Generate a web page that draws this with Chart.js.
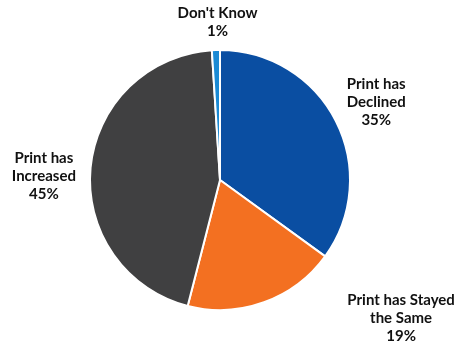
<!DOCTYPE html>
<html>
<head>
<meta charset="utf-8">
<script src="https://cdn.jsdelivr.net/npm/chart.js@4"></script>
<style>
  html, body { margin: 0; padding: 0; background: #fff; }
  #wrap { width: 466px; height: 347px; }
</style>
</head>
<body>
<div id="wrap"><canvas id="pie"></canvas></div>
<script>
// Survey answers, clockwise from 12 o'clock
const categories = ["Print has Declined", "Print has Stayed the Same", "Print has Increased", "Don't Know"];
const labelLines = [["Print has", "Declined"], ["Print has Stayed", "the Same"], ["Print has", "Increased"], ["Don't Know"]];
const shares = [35, 19, 45, 1];
const sliceColors = ["#0a4ea2", "#f37021", "#404041", "#1a8ad4"];

// where each label sits: angle (deg clockwise from top) and distance in radii
const labelAngle = [63.6, 127.3, 271.3, 359.1];
const labelDist = [1.342, 1.751, 1.355, 1.214];

const outsideLabels = {
  id: "outsideLabels",
  afterDraw(chart) {
    const ctx = chart.ctx;
    const arcs = chart.getDatasetMeta(0).data;
    if (!arcs.length) return;
    const cx = arcs[0].x, cy = arcs[0].y, r = arcs[0].outerRadius;
    ctx.save();
    ctx.fillStyle = "#111";
    ctx.font = "bold 15px Lato, 'DejaVu Sans', sans-serif";
    ctx.textAlign = "center";
    ctx.textBaseline = "middle";
    const lh = 18;
    shares.forEach((v, i) => {
      const a = labelAngle[i] * Math.PI / 180;
      const x = cx + Math.sin(a) * r * labelDist[i];
      const y = cy - Math.cos(a) * r * labelDist[i];
      const lines = labelLines[i].concat([v + "%"]);
      const top = y - (lines.length - 1) * lh / 2;
      lines.forEach((t, j) => ctx.fillText(t, x, top + j * lh));
    });
    ctx.restore();
  }
};

new Chart(document.getElementById("pie"), {
  type: "pie",
  data: {
    labels: categories,
    datasets: [{
      data: shares,
      backgroundColor: sliceColors,
      borderColor: "#fff",
      borderWidth: 2
    }]
  },
  options: {
    responsive: true,
    maintainAspectRatio: false,
    animation: false,
    layout: { padding: { top: 49, bottom: 36, left: 89, right: 115 } },
    plugins: {
      legend: { display: false },
      tooltip: { enabled: false }
    }
  },
  plugins: [outsideLabels]
});
</script>
</body>
</html>
